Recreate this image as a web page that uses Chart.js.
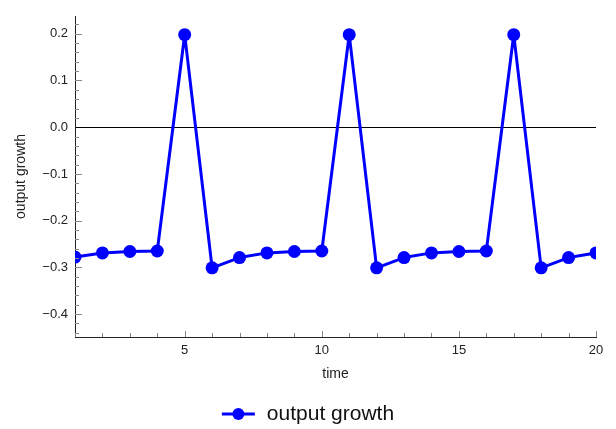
<!DOCTYPE html>
<html>
<head>
<meta charset="utf-8">
<script src="https://cdn.jsdelivr.net/npm/chart.js@4"></script>
<style>
  html, body { margin: 0; padding: 0; background: #fff; }
  #wrap { width: 616px; height: 429px; }
</style>
</head>
<body>
<div id="wrap"><canvas id="growthChart"></canvas></div>
<script>
// dados
const times = [1, 2, 3, 4, 5, 6, 7, 8, 9, 10, 11, 12, 13, 14, 15, 16, 17, 18, 19, 20];
const outputGrowth = [-0.278, -0.269, -0.266, -0.265, 0.198, -0.301, -0.279, -0.269, -0.266, -0.265,
                      0.198, -0.301, -0.279, -0.269, -0.266, -0.265, 0.198, -0.301, -0.279, -0.269];
const xTicks = [5, 10, 15, 20];
const yTicks = [-0.4, -0.3, -0.2, -0.1, 0.0, 0.1, 0.2];
const seriesLabel = 'output growth';

const FONT = '"Liberation Sans", Arial, sans-serif';
const BLUE = '#0000ff';

// ticks para dentro, estilo Mathematica
const innerTicks = {
    id: 'innerTicks',
    afterDraw(chart) {
        const ctx = chart.ctx;
        const area = chart.chartArea;
        const xs = chart.scales.x;
        const ys = chart.scales.y;
        ctx.save();
        ctx.strokeStyle = '#888';
        ctx.lineWidth = 1;
        ctx.beginPath();
        for (let v = Math.ceil(xs.min); v <= xs.max; v++) {
            const px = Math.round(xs.getPixelForValue(v)) + 0.5;
            const len = v % 5 === 0 ? 6 : 4;
            ctx.moveTo(px, area.bottom);
            ctx.lineTo(px, area.bottom - len);
        }
        for (let i = Math.ceil(ys.min / 0.02); i * 0.02 <= ys.max; i++) {
            if (i === 0) continue; // linha do zero já está lá
            const py = Math.round(ys.getPixelForValue(i * 0.02)) + 0.5;
            const len = i % 5 === 0 ? 7 : 4;
            ctx.moveTo(area.left, py);
            ctx.lineTo(area.left + len, py);
        }
        ctx.stroke();
        ctx.restore();
    }
};

// legenda embaixo com linha + círculo
const bottomLegend = {
    id: 'bottomLegend',
    afterDraw(chart) {
        const ctx = chart.ctx;
        ctx.save();
        ctx.font = '21px ' + FONT;
        const tw = ctx.measureText(seriesLabel).width;
        const total = 33 + 12 + tw;
        const x0 = (chart.width - total) / 2;
        const y0 = 414;
        ctx.strokeStyle = BLUE;
        ctx.lineWidth = 3;
        ctx.beginPath();
        ctx.moveTo(x0, y0);
        ctx.lineTo(x0 + 33, y0);
        ctx.stroke();
        ctx.fillStyle = BLUE;
        ctx.beginPath();
        ctx.arc(x0 + 16.5, y0, 6, 0, Math.PI * 2);
        ctx.fill();
        ctx.fillStyle = '#111';
        ctx.textBaseline = 'middle';
        ctx.fillText(seriesLabel, x0 + 45, y0);
        ctx.restore();
    }
};

function fmtY(v) {
    return v.toFixed(1).replace('-', '\u2212');
}

const ctx = document.getElementById('growthChart').getContext('2d');
const chart = new Chart(ctx, {
    type: 'line',
    data: {
        datasets: [{
            label: seriesLabel,
            data: times.map((t, i) => ({ x: t, y: outputGrowth[i] })),
            borderColor: BLUE,
            backgroundColor: BLUE,
            borderWidth: 3,
            borderJoinStyle: 'round',
            pointRadius: 6.5,
            pointBorderWidth: 0,
            pointBackgroundColor: BLUE,
            tension: 0,
            clip: 0,
            fill: false
        }]
    },
    options: {
        responsive: true,
        maintainAspectRatio: false,
        animation: false,
        layout: { padding: { left: 0, right: 20, top: 16, bottom: 42 } },
        plugins: {
            legend: { display: false },
            tooltip: { enabled: false }
        },
        scales: {
            x: {
                type: 'linear',
                min: 1,
                max: 20,
                afterBuildTicks: s => { s.ticks = xTicks.map(v => ({ value: v })); },
                afterFit: s => { s.height = 50; },
                grid: { display: false, drawTicks: false },
                border: { display: true, color: '#222', width: 1 },
                ticks: {
                    padding: 6,
                    color: '#222',
                    font: { family: FONT, size: 13 },
                    maxRotation: 0,
                    callback: v => String(v)
                },
                title: {
                    display: true,
                    text: 'time',
                    color: '#222',
                    font: { family: FONT, size: 14 },
                    padding: { top: 0, bottom: 4 }
                }
            },
            y: {
                type: 'linear',
                min: -0.449,
                max: 0.238,
                afterBuildTicks: s => { s.ticks = yTicks.map(v => ({ value: v })); },
                afterFit: s => { s.width = 75; },
                grid: {
                    drawTicks: false,
                    color: c => (c.tick && Math.abs(c.tick.value) < 1e-9) ? '#000' : 'rgba(0,0,0,0)',
                    lineWidth: 1
                },
                border: { display: true, color: '#222', width: 1 },
                ticks: {
                    padding: 7,
                    color: '#222',
                    font: { family: FONT, size: 13 },
                    callback: v => fmtY(v)
                },
                title: {
                    display: true,
                    text: 'output growth',
                    color: '#222',
                    font: { family: FONT, size: 14 },
                    padding: { top: 13, bottom: 0 }
                }
            }
        }
    },
    plugins: [innerTicks, bottomLegend]
});
</script>
</body>
</html>
